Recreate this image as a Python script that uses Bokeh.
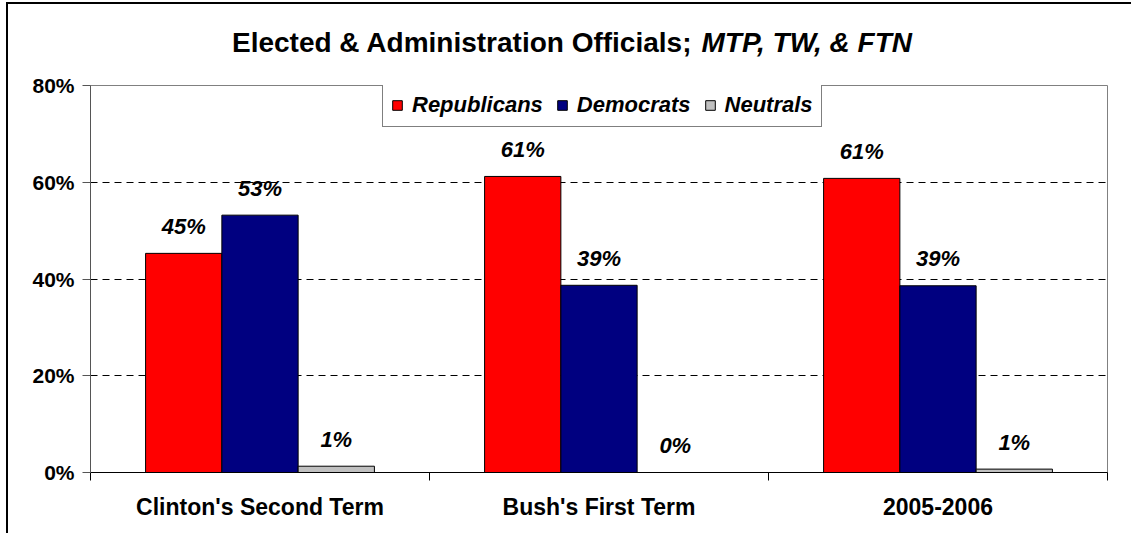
from bokeh.plotting import figure
from bokeh.layouts import column
from bokeh.models import (FactorRange, Range1d, LinearAxis, FixedTicker,
                          PrintfTickFormatter, ColumnDataSource, Label)
from bokeh.transform import dodge
from bokeh.core.properties import value
from bokeh.embed import file_html
from bokeh.resources import INLINE

# ---- data ----
categories = ["Clinton's Second Term", "Bush's First Term", "2005-2006"]
republicans = [45.3, 61.2, 60.8]
democrats = [53.2, 38.7, 38.6]
neutrals = [1.3, 0.0, 0.7]
series_names = ["Republicans", "Democrats", "Neutrals"]
series_colors = ["#FF0000", "#000080", "#C0C0C0"]
y_ticks = [0, 20, 40, 60, 80]
title_main = "Elected & Administration Officials;"
title_italic = "MTP, TW, & FTN"

FONT = "Liberation Sans"
W = 1123

series_values = {"Republicans": republicans, "Democrats": democrats, "Neutrals": neutrals}
data = {"cat": categories}
for name, vals in series_values.items():
    data[name] = vals
    data[name + "_lbl"] = [f"{round(v)}%" for v in vals]
src = ColumnDataSource(data)

# ---- title strip (its own small svg figure; frame aligned with the chart's) ----
t = figure(width=W, height=61, x_range=Range1d(0, 1), y_range=Range1d(0, 1),
           output_backend="svg", toolbar_location=None,
           x_axis_location=None, y_axis_location=None,
           min_border=0, min_border_left=0, min_border_right=0,
           min_border_top=0, min_border_bottom=0)
t.grid.visible = False
t.outline_line_color = None
t.border_fill_color = "white"
t.background_fill_color = "white"
t.add_layout(Label(x=602, y=23, x_units="screen", y_units="screen", text=title_main,
                   text_align="right", text_baseline="alphabetic", text_font=FONT,
                   text_font_style="bold", text_font_size="28px", text_color="black"))
t.add_layout(Label(x=611, y=23, x_units="screen", y_units="screen", text=title_italic,
                   text_align="left", text_baseline="alphabetic", text_font=FONT,
                   text_font_style="bold italic", text_font_size="28px", text_color="black"))

# ---- main chart ----
p = figure(x_range=FactorRange(*categories), y_range=Range1d(0, 80),
           width=W, height=468, output_backend="svg", toolbar_location=None,
           x_axis_location=None, min_border_left=82, min_border_top=20,
           min_border_right=24, min_border_bottom=61)

bar_w = 0.225
offsets = [-bar_w, 0.0, bar_w]
for name, color, off in zip(series_names, series_colors, offsets):
    p.vbar(x=dodge("cat", off, range=p.x_range), top=name, width=bar_w, source=src,
           fill_color=color, line_color="black", line_width=1, legend_label=name)
    p.text(x=dodge("cat", off, range=p.x_range), y=name, text=name + "_lbl", source=src,
           text_align="center", text_baseline="alphabetic", y_offset=-27,
           text_font=value(FONT), text_font_style="bold italic",
           text_font_size="22px", text_color="black")

# y axis
ya = p.yaxis[0]
ya.ticker = FixedTicker(ticks=y_ticks)
ya.formatter = PrintfTickFormatter(format="%d%%")
ya.major_label_text_font = FONT
ya.major_label_text_font_style = "bold"
ya.major_label_text_font_size = "21px"
ya.major_label_text_color = "black"
ya.major_tick_out = 8
ya.major_tick_in = 0
ya.minor_tick_out = 0
ya.minor_tick_in = 0
ya.major_label_standoff = 8
ya.axis_line_color = "#555555"
ya.major_tick_line_color = "#555555"

# x axis: labels at centres, ticks at category boundaries
xa = LinearAxis(ticker=FixedTicker(ticks=[i + 0.5 for i in range(len(categories))],
                                   minor_ticks=list(range(len(categories) + 1))),
                major_label_overrides={i + 0.5: c for i, c in enumerate(categories)})
xa.major_tick_out = 0
xa.major_tick_in = 0
xa.minor_tick_out = 8
xa.minor_tick_in = 0
xa.minor_tick_line_color = "black"
xa.axis_line_color = "black"
xa.major_label_standoff = 13
xa.major_label_text_font = FONT
xa.major_label_text_font_style = "bold"
xa.major_label_text_font_size = "23px"
xa.major_label_text_color = "black"
p.add_layout(xa, "below")

# grid
p.xgrid.grid_line_color = None
p.ygrid.ticker = FixedTicker(ticks=y_ticks[1:-1])
p.ygrid.grid_line_color = "black"
p.ygrid.grid_line_dash = "7 5"
p.ygrid.grid_line_width = 1

p.outline_line_color = "#808080"
p.outline_line_width = 1
p.background_fill_color = "white"
p.border_fill_color = "white"

# legend (inside the plot area, touching its top edge)
lg = p.legend[0]
lg.location = (292, 345)
lg.orientation = "horizontal"
lg.glyph_width = 12
lg.glyph_height = 12
lg.label_standoff = 9
lg.spacing = 13
lg.padding = 8
lg.margin = 0
lg.border_line_color = "black"
lg.border_line_width = 1
lg.background_fill_color = "white"
lg.background_fill_alpha = 1
lg.label_text_font = FONT
lg.label_text_font_style = "bold italic"
lg.label_text_font_size = "22px"
lg.label_text_color = "black"

layout = column(t, p, spacing=0)
layout.styles = {"margin-left": "6px", "margin-top": "2px",
                 "border-left": "2px solid black", "border-top": "2px solid black"}

open("out.html", "w").write(file_html(layout, INLINE))
